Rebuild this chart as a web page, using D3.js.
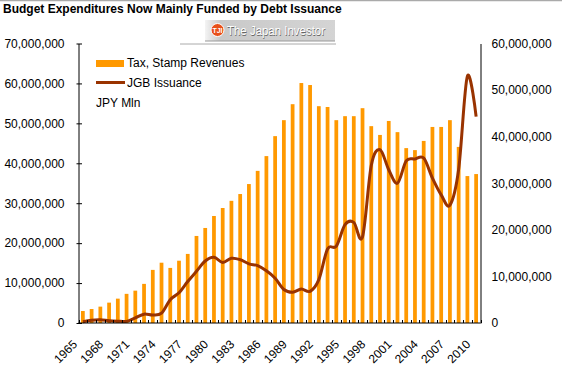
<!DOCTYPE html>
<html>
<head>
<meta charset="utf-8">
<script src="https://cdn.jsdelivr.net/npm/d3@7"></script>
<style>
  body { margin: 0; background: #fff; }
  text { font-family: "Liberation Sans", Arial, sans-serif; }
</style>
</head>
<body>
<div id="chart"></div>
<script>
// data (JPY Mln)
const years = d3.range(1965, 2011).map(String);
const taxRevenues = [
  3.0, 3.5, 4.1, 5.1, 6.1, 7.3, 8.1, 9.8, 13.3, 15.1,
  13.8, 15.6, 17.3, 21.8, 23.8, 26.8, 28.8, 30.6, 32.3, 34.8,
  38.1, 41.8, 46.8, 50.8, 54.8, 60.1, 59.6, 54.3, 54.1, 50.8,
  51.8, 51.8, 53.8, 49.3, 47.1, 50.6, 47.8, 43.8, 43.3, 45.6,
  49.1, 49.1, 50.8, 44.1, 36.8, 37.3
].map(v => v * 1e6);
const jgbIssuance = [
  0.25, 0.6, 0.7, 0.5, 0.4, 0.35, 1.1, 1.9, 1.7, 2.1,
  5.0, 6.5, 8.9, 11.1, 13.3, 14.1, 13.0, 13.9, 13.6, 12.7,
  12.3, 11.2, 9.6, 7.2, 6.6, 7.3, 6.8, 9.3, 15.9, 16.5,
  21.1, 21.6, 18.5, 33.8, 37.2, 32.9, 30.0, 34.8, 35.2, 35.4,
  31.1, 27.5, 25.3, 33.0, 53.0, 44.3
].map(v => v * 1e6);
const leftTicks = [0, 10e6, 20e6, 30e6, 40e6, 50e6, 60e6, 70e6];
const rightTicks = [0, 10e6, 20e6, 30e6, 40e6, 50e6, 60e6];
const labelYears = years.filter((d, i) => i % 3 == 0);

const W = 562, H = 371;
const plot = { left: 78.5, right: 480.5, top: 43.5, bottom: 323 };
const barColor = "#FF9900";
const lineColor = "#993300";

const svg = d3.select("#chart").append("svg")
  .attr("width", W).attr("height", H);

// top border
svg.append("line")
  .attr("x1", 0).attr("x2", W).attr("y1", 0.5).attr("y2", 0.5)
  .attr("stroke", "#aaa").attr("stroke-width", 1.5);

svg.append("text")
  .attr("x", 3).attr("y", 13)
  .style("font-size", "12px").style("font-weight", "bold")
  .text("Budget Expenditures Now Mainly Funded by Debt Issuance");

// logo banner
const defs = svg.append("defs");
const grad = defs.append("linearGradient").attr("id", "logoGrad")
  .attr("x1", 0).attr("x2", 1).attr("y1", 0).attr("y2", 0);
grad.append("stop").attr("offset", "0%").attr("stop-color", "#f4f4f4");
grad.append("stop").attr("offset", "12%").attr("stop-color", "#c9c9c9");
grad.append("stop").attr("offset", "100%").attr("stop-color", "#d4d4d4");
const logo = svg.append("g").attr("transform", "translate(205,20)");
logo.append("rect").attr("width", 130).attr("height", 21).attr("fill", "url(#logoGrad)");
logo.append("line").attr("x1", 0).attr("x2", 130).attr("y1", 21).attr("y2", 21)
  .attr("stroke", "#999");
logo.append("circle").attr("cx", 12.5).attr("cy", 10).attr("r", 6.5)
  .attr("fill", "#e8501a").attr("stroke", "#fff").attr("stroke-width", 1);
logo.append("text").attr("x", 12.5).attr("y", 12.5).attr("text-anchor", "middle")
  .attr("fill", "#fff").style("font-size", "7px").style("font-weight", "bold")
  .text("TJI");
logo.append("text").attr("x", 22.5).attr("y", 15.5)
  .attr("fill", "#666").style("font-size", "13px")
  .attr("textLength", 98).attr("lengthAdjust", "spacingAndGlyphs")
  .text("The Japan Investor");
logo.append("text").attr("x", 22).attr("y", 15)
  .attr("fill", "#fff").style("font-size", "13px")
  .attr("textLength", 98).attr("lengthAdjust", "spacingAndGlyphs")
  .text("The Japan Investor");
svg.append("line")
  .attr("x1", 180).attr("x2", 336).attr("y1", 44).attr("y2", 44)
  .attr("stroke", "#aaa");

const x = d3.scaleBand()
  .domain(years)
  .range([plot.left, plot.right])
  .paddingInner(0.57).paddingOuter(0.285);
const yLeft = d3.scaleLinear().domain([0, 70e6]).range([plot.bottom, plot.top]);
const yRight = d3.scaleLinear().domain([0, 60e6]).range([plot.bottom, plot.top]);
const fmt = d3.format(",");

// bars
svg.append("g").selectAll("rect")
  .data(years)
  .join("rect")
  .attr("x", d => x(d))
  .attr("y", (d, i) => yLeft(taxRevenues[i]))
  .attr("width", x.bandwidth())
  .attr("height", (d, i) => plot.bottom - yLeft(taxRevenues[i]))
  .attr("fill", barColor);

// smoothed line
const line = d3.line()
  .x((d, i) => x(years[i]) + x.bandwidth() / 2)
  .y(d => yRight(d))
  .curve(d3.curveCardinal.tension(0));
svg.append("path")
  .datum(jgbIssuance)
  .attr("d", line)
  .attr("fill", "none")
  .attr("stroke", lineColor)
  .attr("stroke-width", 3)
  .attr("stroke-linejoin", "round");

// left axis
const leftAxis = d3.axisLeft(yLeft).tickValues(leftTicks).tickFormat(fmt)
  .tickSizeInner(-4).tickSizeOuter(0).tickPadding(14);
const gl = svg.append("g").attr("transform", `translate(${plot.left},0)`).call(leftAxis);
gl.selectAll(".tick line").attr("x1", -2).attr("x2", 3.5);

// right axis
const rightAxis = d3.axisRight(yRight).tickValues(rightTicks).tickFormat(fmt)
  .tickSize(0).tickPadding(11);
svg.append("g").attr("transform", `translate(${plot.right},0)`).call(rightAxis);

// bottom axis, ticks between categories
const gb = svg.append("g").attr("transform", `translate(0,${plot.bottom})`);
gb.append("line").attr("x1", plot.left).attr("x2", plot.right)
  .attr("stroke", "#000");
gb.selectAll(".cat-tick")
  .data(d3.range(years.length + 1))
  .join("line")
  .attr("x1", i => Math.round(plot.left + i * x.step()) + 0.5)
  .attr("x2", i => Math.round(plot.left + i * x.step()) + 0.5)
  .attr("y1", -3).attr("y2", 0)
  .attr("stroke", "#000");
gb.selectAll(".year-label")
  .data(labelYears)
  .join("text")
  .attr("text-anchor", "end")
  .attr("transform", d => `translate(${x(d) + x.bandwidth() / 2 - 5},22) rotate(-45)`)
  .style("font-size", "12px")
  .text(d => d);

svg.selectAll(".domain").attr("stroke", "#000");
svg.selectAll(".tick text").style("font-size", "12px").attr("fill", "#000");

// legend
const legend = svg.append("g");
legend.append("rect").attr("x", 96).attr("y", 60).attr("width", 28).attr("height", 7)
  .attr("fill", barColor);
legend.append("text").attr("x", 127).attr("y", 66.5).style("font-size", "12px")
  .text("Tax, Stamp Revenues");
legend.append("line").attr("x1", 96).attr("x2", 125).attr("y1", 82.5).attr("y2", 82.5)
  .attr("stroke", lineColor).attr("stroke-width", 3);
legend.append("text").attr("x", 127).attr("y", 86.5).style("font-size", "12px")
  .text("JGB Issuance");
legend.append("text").attr("x", 96).attr("y", 106.5).style("font-size", "12px")
  .text("JPY Mln");
</script>
</body>
</html>
